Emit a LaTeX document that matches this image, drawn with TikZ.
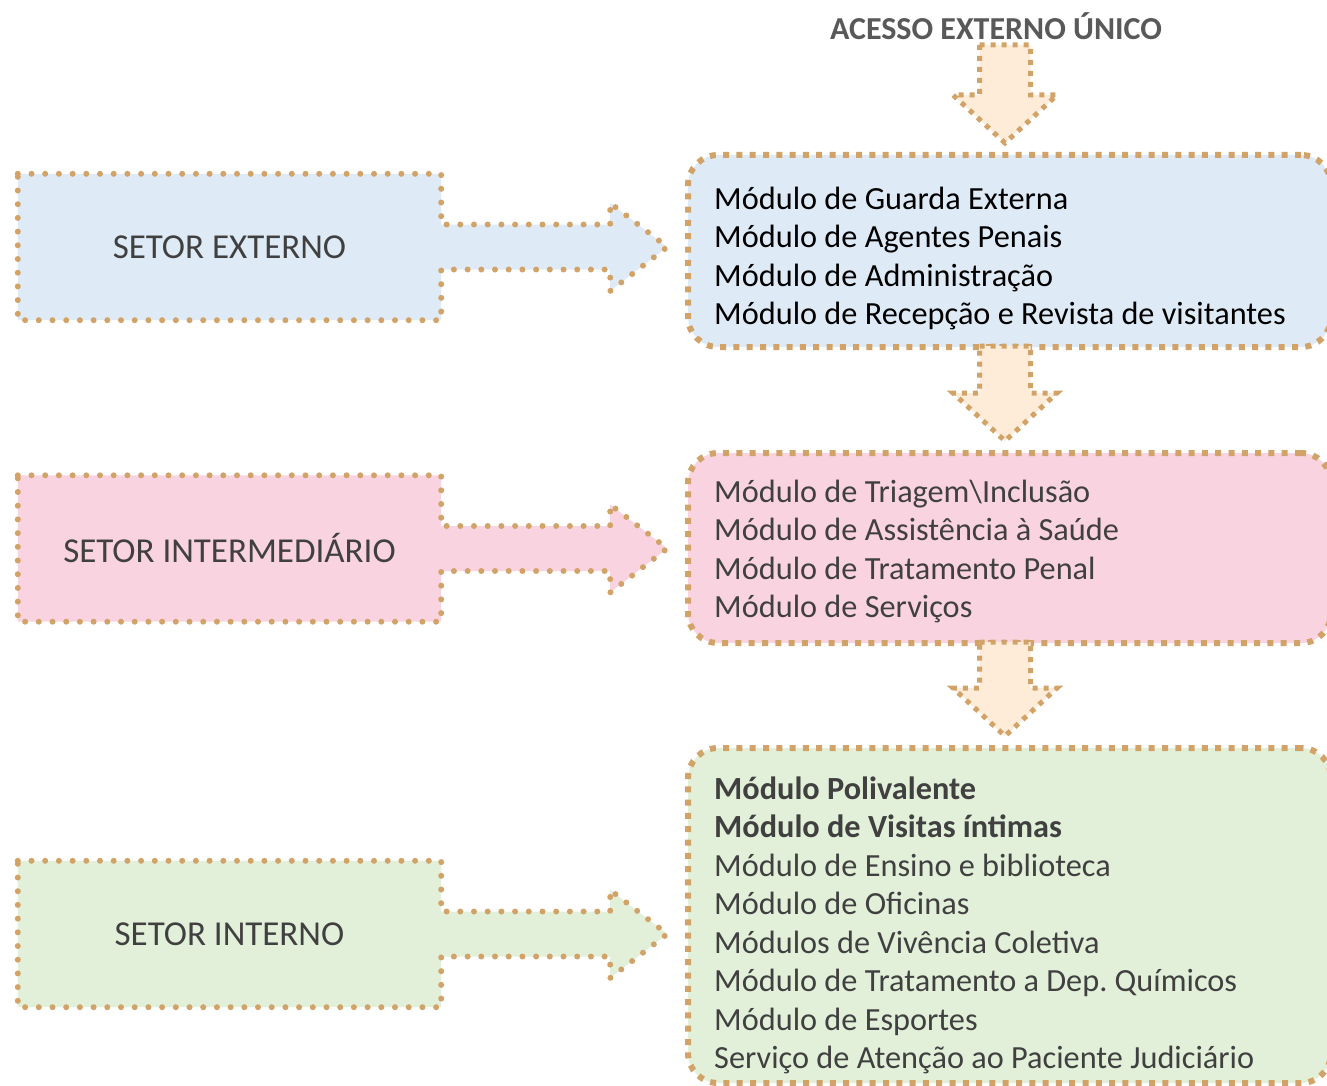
\documentclass[tikz,border=0pt]{standalone}
\usepackage{fontspec}
\setmainfont{Carlito}
\usetikzlibrary{calc,backgrounds}

\definecolor{bordertan}{RGB}{210,163,104}
\definecolor{extblue}{RGB}{222,235,247}
\definecolor{midpink}{RGB}{250,211,225}
\definecolor{intgreen}{RGB}{226,240,217}
\definecolor{arrowpeach}{RGB}{254,236,217}
\definecolor{textgray}{RGB}{64,64,64}
\definecolor{titlegray}{RGB}{89,89,89}

\tikzset{
  setorline/.style={draw=bordertan, line width=6pt, line cap=round, dash pattern=on 0pt off 13.7pt},
  setorbox/.style={minimum width=423, minimum height=146, inner sep=0pt,
                   font=\fontsize{35}{40}\selectfont, text=textgray},
  modbox/.style={draw=bordertan, line width=6pt, dash pattern=on 6pt off 7.3pt,
                 rounded corners=30pt, minimum width=643, anchor=north west,
                 inner sep=0pt, outer sep=0pt},
  modline/.style={font=\fontsize{32.3}{38}\selectfont, text=textgray, anchor=base west, inner sep=0pt},
  downblock/.style={draw=bordertan, fill=arrowpeach, line width=5pt, dash pattern=on 5pt off 6pt},
}

% box plus its arrow, as one outline
\newcommand{\setorshape}[2]{%
  \begin{scope}[on background layer]
  \filldraw[setorline, fill=#2] (#1.north west) -- (#1.north east)
    -- ($(#1.east)+(0,-22.5)$) -- ($(#1.east)+(169,-22.5)$)
    -- ($(#1.east)+(169,-44)$) -- ($(#1.east)+(226,0)$)
    -- ($(#1.east)+(169,44)$) -- ($(#1.east)+(169,22.5)$)
    -- ($(#1.east)+(0,22.5)$) -- (#1.south east) -- (#1.south west) -- cycle;
  \end{scope}}

% block arrow pointing down, from #1 to #2
\newcommand{\blockdown}[3]{%
  \path (#1.south -| acol) coordinate (bt)
        ($(#2.north -| acol)+(0,-12)$) coordinate (bp);
  \draw[downblock] ($(bt)+(-25.5,#3)$) -- ($(bt)+(25.5,#3)$)
    -- ($(bp)+(25.5,-48)$) -- ($(bp)+(52,-48)$) -- (bp)
    -- ($(bp)+(-52,-48)$) -- ($(bp)+(-25.5,-48)$) -- cycle;}

\begin{document}
\frenchspacing
\begin{tikzpicture}[x=1pt, y=-1pt]
  \useasboundingbox (0,0) rectangle (1327,1086);
  \clip (0,0) rectangle (1327,1086);
  \coordinate (acol) at (1005,0);

  \node[font=\bfseries\fontsize{32}{36}\selectfont, text=titlegray, inner sep=0pt] (acesso) at (996,26) {ACESSO EXTERNO ÚNICO};

  % left side
  \node[setorbox] (sext) at (229.5,247) {SETOR EXTERNO};
  \node[setorbox] (smid) at (229.5,548.5) {SETOR INTERMEDIÁRIO};
  \node[setorbox] (sint) at (229.5,934) {SETOR INTERNO};
  \setorshape{sext}{extblue}
  \setorshape{smid}{midpink}
  \setorshape{sint}{intgreen}

  % right side
  \node[modbox, fill=extblue, minimum height=192] (mext) at (688,155) {};
  \node[modbox, fill=midpink, minimum height=190] (mmid) at (688,453) {};
  \node[modbox, fill=intgreen, minimum height=335] (mint) at (688,748) {};

  \foreach \txt [count=\i from 0] in {Módulo de Guarda Externa, Módulo de Agentes Penais,
      Módulo de Administração, Módulo de Recepção e Revista de visitantes}
    \node[modline, text=black] (lext-\i) at (714, 209+38.5*\i) {\txt};

  \foreach \txt [count=\i from 0] in {Módulo de Triagem\textbackslash Inclusão,
      Módulo de Assistência à Saúde, Módulo de Tratamento Penal, Módulo de Serviços}
    \node[modline] (lmid-\i) at (714, 502+38.5*\i) {\txt};

  \foreach \txt [count=\i from 0] in {\textbf{Módulo Polivalente}, \textbf{Módulo de Visitas íntimas},
      Módulo de Ensino e biblioteca, Módulo de Oficinas, Módulos de Vivência Coletiva,
      Módulo de Tratamento a Dep. Químicos, Módulo de Esportes,
      Serviço de Atenção ao Paciente Judiciário}
    \node[modline] (lint-\i) at (714, 799+38.5*\i) {\txt};

  \blockdown{acesso}{mext}{5}
  \blockdown{mext}{mmid}{-1}
  \blockdown{mmid}{mint}{-1}
\end{tikzpicture}
\end{document}
